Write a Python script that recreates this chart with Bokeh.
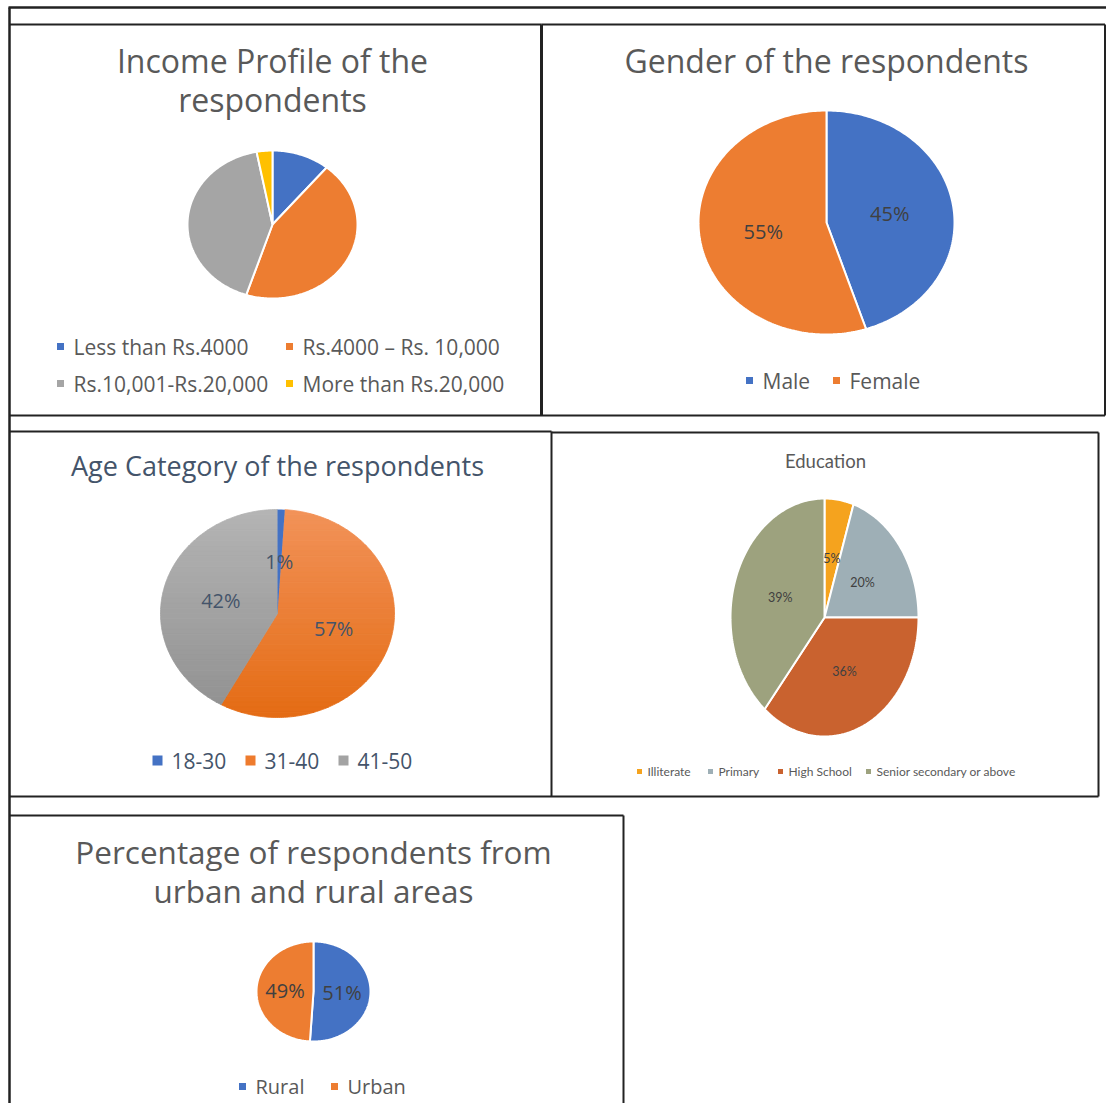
import numpy as np
from bokeh.plotting import figure
from bokeh.models import Range1d
from bokeh.core.properties import value
from bokeh.embed import file_html
from bokeh.resources import INLINE

# ---------------- data ----------------
income_title = ["Income Profile of the", "respondents"]
income_labels = ["Less than Rs.4000", "Rs.4000 \u2013 Rs. 10,000", "Rs.10,001-Rs.20,000", "More than Rs.20,000"]
income_values = [11, 44, 42, 3]

gender_title = ["Gender of the respondents"]
gender_labels = ["Male", "Female"]
gender_values = [45, 55]

age_title = ["Age Category of the respondents"]
age_labels = ["18-30", "31-40", "41-50"]
age_values = [1, 57, 42]

edu_title = ["Education"]
edu_labels = ["Illiterate", "Primary", "High School", "Senior secondary or above"]
edu_values = [5, 20, 36, 39]

area_title = ["Percentage of respondents from", "urban and rural areas"]
area_labels = ["Rural", "Urban"]
area_values = [51, 49]

# ---------------- canvas ----------------
W, H = 1106, 1103
FONT = "Open Sans"
EFONT = "Lato"


def X(px):
    return np.asarray(px, dtype=float)


def Y(py):
    return H - np.asarray(py, dtype=float)


p = figure(width=W, height=H, x_range=Range1d(0, W), y_range=Range1d(0, H),
           x_axis_type=None, y_axis_type=None, toolbar_location=None,
           output_backend="svg", min_border=0, outline_line_color=None)
p.grid.visible = False
p.background_fill_color = "white"
p.border_fill_color = "white"

# ---------------- frame lines (layout) ----------------
RX = min(1111, W - 1.5)
segs = [
    (8, 7, 1115, 7, 2.5),
    (9, 7, 9, 1119, 2.5),
    (9, 24, 541, 24, 2),
    (541, 24, RX, 24, 2),
    (541, 24, 541, 415, 3),
    (RX, 24, RX, 415, 2),
    (9, 415, RX, 415, 2),
    (9, 431, 551, 431, 2),
    (551, 432, 1098, 432, 2),
    (551, 431, 551, 796, 2),
    (1098, 432, 1098, 796, 2),
    (9, 796, 1098, 796, 2),
    (9, 815, 623, 815, 2),
    (623, 815, 623, 1119, 2),
]
p.multi_line(xs=[list(X([s[0], s[2]])) for s in segs],
             ys=[list(Y([s[1], s[3]])) for s in segs],
             line_color="#222222", line_width=[s[4] for s in segs])


def clip_band(pts, y0, y1):
    """Sutherland-Hodgman clip of polygon pts (list of (x,y), y down) to y0<=y<=y1."""
    def clip(poly, inside, inter):
        out = []
        n = len(poly)
        for i in range(n):
            a, b = poly[i - 1], poly[i]
            ia, ib = inside(a), inside(b)
            if ib:
                if not ia:
                    out.append(inter(a, b))
                out.append(b)
            elif ia:
                out.append(inter(a, b))
        return out

    def inter_y(yc):
        def f(a, b):
            t = (yc - a[1]) / (b[1] - a[1])
            return (a[0] + t * (b[0] - a[0]), yc)
        return f

    poly = clip(pts, lambda q: q[1] >= y0, inter_y(y0))
    if not poly:
        return poly
    return clip(poly, lambda q: q[1] <= y1, inter_y(y1))


def mix(c0, c1, t):
    a = np.array([int(c0[i:i + 2], 16) for i in (1, 3, 5)], dtype=float)
    b = np.array([int(c1[i:i + 2], 16) for i in (1, 3, 5)], dtype=float)
    c = np.round(a + (b - a) * t).astype(int)
    return "#%02x%02x%02x" % tuple(c)


def draw_pie(cx, cy, rx, ry, values, colors, border, label_color=None,
             label_size="18px", label_font=FONT, gradients=None):
    vals = np.asarray(values, dtype=float)
    frac = vals / vals.sum()
    ends = np.cumsum(frac)
    starts = ends - frac
    xs, ys, fills = [], [], []
    gx, gy, gc = [], [], []
    for k, (s, e) in enumerate(zip(starts, ends)):
        n = max(int((e - s) * 360), 2)
        th = np.linspace(s, e, n) * 2 * np.pi
        px = np.concatenate([[cx], cx + rx * np.sin(th)])
        py = np.concatenate([[cy], cy - ry * np.cos(th)])
        if gradients and gradients[k]:
            c0, c1 = gradients[k]
            nb = 40
            edges = np.linspace(cy - ry, cy + ry, nb + 1)
            pts = list(zip(px, py))
            for j in range(nb):
                part = clip_band(pts, edges[j], edges[j + 1])
                if len(part) >= 3:
                    col = mix(c0, c1, (j + 0.5) / nb)
                    gx.append(list(X([q[0] for q in part])))
                    gy.append(list(Y([q[1] for q in part])))
                    gc.append(col)
        else:
            xs.append(list(X(px)))
            ys.append(list(Y(py)))
            fills.append(colors[k])
    if gx:
        p.patches(gx, gy, fill_color=gc, line_color=gc, line_width=0.8)
    if border:
        p.patches(xs, ys, fill_color=fills, line_color="white", line_width=2)
    else:
        p.patches(xs, ys, fill_color=fills, line_color=None)
    if label_color:
        mid = (starts + ends) / 2 * 2 * np.pi
        lx = cx + 0.5 * rx * np.sin(mid)
        ly = cy - 0.5 * ry * np.cos(mid)
        p.text(X(lx), Y(ly), text=[f"{int(v)}%" for v in values],
               text_font=value(label_font), text_font_size=value(label_size),
               text_color=label_color, text_align="center", text_baseline="middle")


def draw_title(cx, ys_, lines, size, color, font=FONT):
    p.text(X([cx] * len(lines)), Y(ys_), text=lines, text_font=value(font),
           text_font_size=value(size), text_color=color,
           text_align="center", text_baseline="middle")


def draw_legend(mx, my, labels, colors, msize, size, color, gap=12, font=FONT):
    mx = np.asarray(mx, dtype=float)
    my = np.asarray(my, dtype=float)
    p.rect(X(mx), Y(my), width=msize, height=msize, fill_color=colors, line_color=None)
    p.text(X(mx + gap), Y(my), text=labels, text_font=value(font),
           text_font_size=value(size), text_color=color,
           text_align="left", text_baseline="middle")


BLUE, ORANGE, GRAY, YELLOW = "#4472C4", "#ED7D31", "#A5A5A5", "#FFC000"
TXT = "#595959"
SLATE = "#44546A"

# ---- Income ----
draw_title(272, [59.5, 99], income_title, "32px", TXT)
draw_pie(272, 224, 85, 74, income_values, [BLUE, ORANGE, GRAY, YELLOW], True)
draw_legend([60, 289, 60, 289], [346, 346, 383, 383], income_labels,
            [BLUE, ORANGE, GRAY, YELLOW], 7, "21px", TXT, gap=13)

# ---- Gender ----
draw_title(826, [59.5], gender_title, "32px", TXT)
draw_pie(826, 222, 128, 112, gender_values, [BLUE, ORANGE], True,
         label_color="#404040", label_size="20px")
draw_legend([749, 836], [380, 380], gender_labels, [BLUE, ORANGE], 7, "21px", TXT, gap=13)

# ---- Age ----
AGE_COLORS = [BLUE, "#EE7B2D", "#A3A3A3"]
draw_title(277, [465], age_title, "27px", SLATE)
draw_pie(277, 613, 117, 104, age_values, AGE_COLORS, False,
         label_color=SLATE, label_size="20px",
         gradients=[None, ("#F29259", "#E46C14"), ("#B4B4B4", "#909090")])
draw_legend([157, 250, 343], [760, 760, 760], age_labels,
            AGE_COLORS, 10, "21px", SLATE, gap=14)

# ---- Education ----
EDU_COLORS = ["#F5A31E", "#9EAFB6", "#C9622F", "#9DA27E"]
draw_title(825, [460.5], edu_title, "18.5px", TXT, font=EFONT)
draw_pie(824, 617, 94, 119, edu_values, EDU_COLORS, True,
         label_color="#404040", label_size="12.5px", label_font=EFONT)
draw_legend([639, 710, 780, 868], [771, 771, 771, 771], edu_labels,
            EDU_COLORS, 5, "12px", TXT, gap=8, font=EFONT)

# ---- Urban / Rural ----
draw_title(313, [851, 890], area_title, "31.5px", TXT)
draw_pie(313, 991, 57, 50, area_values, [BLUE, ORANGE], True,
         label_color="#404040", label_size="20px")
draw_legend([242, 334], [1086, 1086], area_labels, [BLUE, ORANGE], 7, "20px", TXT, gap=13)

open("out.html", "w").write(file_html(p, INLINE))
